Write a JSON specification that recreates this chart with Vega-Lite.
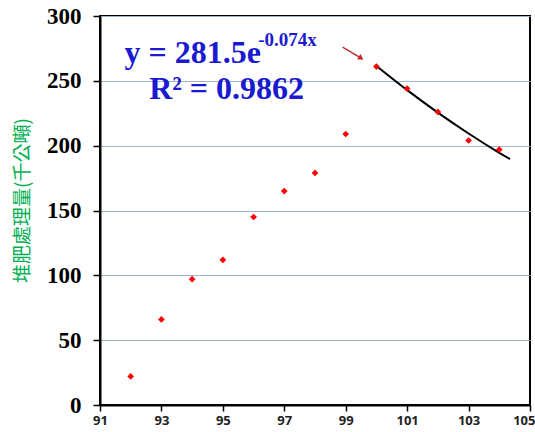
{
  "$schema": "https://vega.github.io/schema/vega-lite/v6.json",
  "autosize": "none",
  "width": 430,
  "height": 389,
  "padding": {"left": 100, "top": 16, "right": 5, "bottom": 27},
  "background": "white",
  "config": {
    "view": {"stroke": "black", "strokeWidth": 2},
    "axis": {"grid": false}
  },
  "datasets": {
    "pts": [
      {"year": 92, "v": 22},
      {"year": 93, "v": 66},
      {"year": 94, "v": 97},
      {"year": 95, "v": 112},
      {"year": 96, "v": 145},
      {"year": 97, "v": 165},
      {"year": 98, "v": 179},
      {"year": 99, "v": 209},
      {"year": 100, "v": 261},
      {"year": 101, "v": 244},
      {"year": 102, "v": 226},
      {"year": 103, "v": 204},
      {"year": 104, "v": 197}
    ],
    "fit": [
      {"year": 100, "v": 261.4},
      {"year": 101, "v": 242.8},
      {"year": 102, "v": 225.5},
      {"year": 103, "v": 209.4},
      {"year": 104, "v": 194.5},
      {"year": 104.35, "v": 189.6}
    ],
    "labels": [
      {"x": 91.8, "y": 264, "t": "y = 281.5e", "kind": "main"},
      {"x": 96.15, "y": 277, "t": "-0.074x", "kind": "sup"},
      {"x": 92.6, "y": 236, "t": "R² = 0.9862", "kind": "main"}
    ],
    "arrow": [
      {"x": 98.9, "y": 276, "x2": 99.5, "y2": 267.5}
    ]
  },
  "layer": [
    {
      "data": {"name": "pts"},
      "mark": {"type": "point", "opacity": 0},
      "encoding": {
        "x": {
          "field": "year", "type": "quantitative",
          "scale": {"domain": [91, 105], "nice": false, "zero": false},
          "axis": {
            "values": [91, 93, 95, 97, 99, 101, 103, 105],
            "title": null,
            "domainColor": "black", "domainWidth": 2,
            "tickColor": "black", "tickSize": 6, "tickWidth": 1.5,
            "labelFont": "Open Sans", "labelFontWeight": "bold", "labelFontSize": 13,
            "labelColor": "#222", "labelPadding": 3, "labelFlush": false,
            "labelAlign": {"condition": {"test": "datum.value == 105", "value": "right"}, "value": "center"},
            "labelOffset": {"condition": {"test": "datum.value == 105", "value": 5}, "value": 0}
          }
        },
        "y": {
          "field": "v", "type": "quantitative",
          "scale": {"domain": [0, 300], "nice": false},
          "axis": {
            "values": [0, 50, 100, 150, 200, 250, 300],
            "grid": true, "gridColor": "#9db4d6", "gridWidth": 1,
            "title": "堆肥處理量(千公噸)",
            "titleFont": "Noto Sans CJK TC", "titleFontSize": 19, "titleFontWeight": "normal",
            "titleColor": "#00b050",
            "titleX": -78, "titleY": 184, "titleAngle": -90,
            "titleAlign": "center", "titleBaseline": "middle",
            "domainColor": "black", "domainWidth": 2,
            "tickColor": "black", "tickSize": 7, "tickWidth": 1.5,
            "labelFont": "Liberation Serif", "labelFontWeight": "bold", "labelFontSize": 23,
            "labelColor": "black", "labelPadding": 12
          }
        }
      }
    },
    {
      "data": {"name": "fit"},
      "mark": {"type": "line", "color": "black", "strokeWidth": 2, "interpolate": "monotone"},
      "encoding": {
        "x": {"field": "year", "type": "quantitative"},
        "y": {"field": "v", "type": "quantitative"}
      }
    },
    {
      "data": {"name": "pts"},
      "mark": {"type": "point", "shape": "diamond", "filled": true, "color": "#ff0000", "size": 45, "opacity": 1},
      "encoding": {
        "x": {"field": "year", "type": "quantitative"},
        "y": {"field": "v", "type": "quantitative"}
      }
    },
    {
      "data": {"name": "arrow"},
      "mark": {"type": "rule", "color": "#c0282b", "strokeWidth": 1.3},
      "encoding": {
        "x": {"field": "x", "type": "quantitative"},
        "y": {"field": "y", "type": "quantitative"},
        "x2": {"field": "x2"},
        "y2": {"field": "y2"}
      }
    },
    {
      "data": {"name": "arrow"},
      "mark": {"type": "point", "shape": "triangle-right", "filled": true, "color": "#c0282b", "size": 40, "angle": 33, "opacity": 1},
      "encoding": {
        "x": {"field": "x2", "type": "quantitative"},
        "y": {"field": "y2", "type": "quantitative"}
      }
    },
    {
      "data": {"name": "labels"},
      "transform": [{"filter": "datum.kind == 'main'"}],
      "mark": {"type": "text", "align": "left", "baseline": "alphabetic", "font": "Liberation Serif", "fontWeight": "bold", "fontSize": 32, "color": "#1a1ad0"},
      "encoding": {
        "x": {"field": "x", "type": "quantitative"},
        "y": {"field": "y", "type": "quantitative"},
        "text": {"field": "t"}
      }
    },
    {
      "data": {"name": "labels"},
      "transform": [{"filter": "datum.kind == 'sup'"}],
      "mark": {"type": "text", "align": "left", "baseline": "alphabetic", "font": "Liberation Serif", "fontWeight": "bold", "fontSize": 19, "color": "#1a1ad0"},
      "encoding": {
        "x": {"field": "x", "type": "quantitative"},
        "y": {"field": "y", "type": "quantitative"},
        "text": {"field": "t"}
      }
    }
  ]
}
